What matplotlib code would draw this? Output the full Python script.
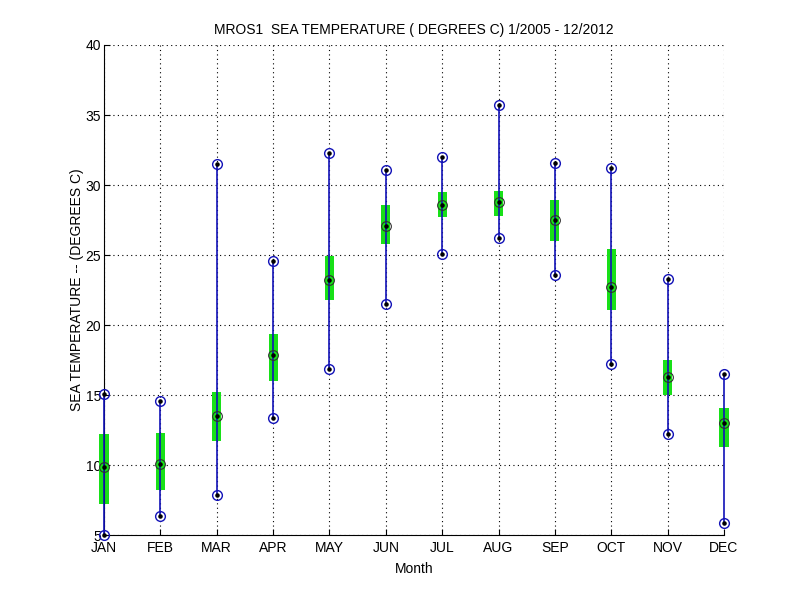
import matplotlib
matplotlib.use('Agg')
import matplotlib.pyplot as plt
import numpy as np

plt.rcParams['font.family'] = ['Liberation Sans', 'DejaVu Sans']

months = ['JAN', 'FEB', 'MAR', 'APR', 'MAY', 'JUN', 'JUL', 'AUG', 'SEP', 'OCT', 'NOV', 'DEC']
t_max = [15.1, 14.6, 31.5, 24.6, 32.3, 31.1, 32.0, 35.7, 31.6, 31.2, 23.3, 16.5]
t_min = [5.0, 6.4, 7.9, 13.4, 16.9, 21.5, 25.1, 26.2, 23.6, 17.2, 12.2, 5.9]
t_mean = [9.9, 10.1, 13.5, 17.9, 23.2, 27.1, 28.6, 28.8, 27.5, 22.7, 16.3, 13.0]
box_hi = [12.2, 12.3, 15.2, 19.4, 24.9, 28.6, 29.5, 29.6, 28.9, 25.4, 17.5, 14.1]
box_lo = [7.2, 8.2, 11.7, 16.0, 21.8, 25.8, 27.7, 27.8, 26.0, 21.1, 15.0, 11.3]

x = np.arange(1, len(months) + 1)
blue = '#1212B8'
green = '#18E018'

fig = plt.figure(figsize=(8, 6), dpi=100)
ax = fig.add_axes([0.13, 0.108, 0.775, 0.817])

bars = ax.bar(x, np.array(box_hi) - np.array(box_lo), bottom=box_lo, width=0.16,
              color=green, edgecolor='none', zorder=2)
for b in bars:
    b.set_clip_on(False)
ax.vlines(x, t_min, t_max, color=blue, linewidth=1.2, zorder=3, clip_on=False)
ax.plot(x, t_max, 'o', mfc='none', mec=blue, ms=7, mew=1.0, zorder=4, clip_on=False)
ax.plot(x, t_min, 'o', mfc='none', mec=blue, ms=7, mew=1.0, zorder=4, clip_on=False)
ax.plot(x, t_mean, 'o', mfc='none', mec='#303030', ms=7, mew=0.8, zorder=4, clip_on=False)
for vals in (t_max, t_min, t_mean):
    ax.plot(x, vals, '.', color='black', ms=4.5, zorder=5, clip_on=False)

ax.set_xlim(1, 12)
ax.set_ylim(5, 40)
ax.set_xticks(x, labels=months)
ax.set_yticks(np.arange(5, 41, 5))
ax.grid(True, color='black', linestyle=(0, (1, 3)), linewidth=0.8)
ax.set_axisbelow(True)
ax.spines['top'].set_visible(False)
ax.spines['right'].set_visible(False)
ax.tick_params(direction='in', length=4, labelsize=10)
ax.tick_params(axis='x', pad=4)
ax.tick_params(axis='y', pad=2)
ax.set_title('MROS1  SEA TEMPERATURE ( DEGREES C) 1/2005 - 12/2012', fontsize=10, pad=8)
ax.set_xlabel('Month', fontsize=10, labelpad=5)
ax.set_ylabel('SEA TEMPERATURE -- (DEGREES C)', fontsize=10, labelpad=1)

fig.savefig('out.png', dpi=100)
